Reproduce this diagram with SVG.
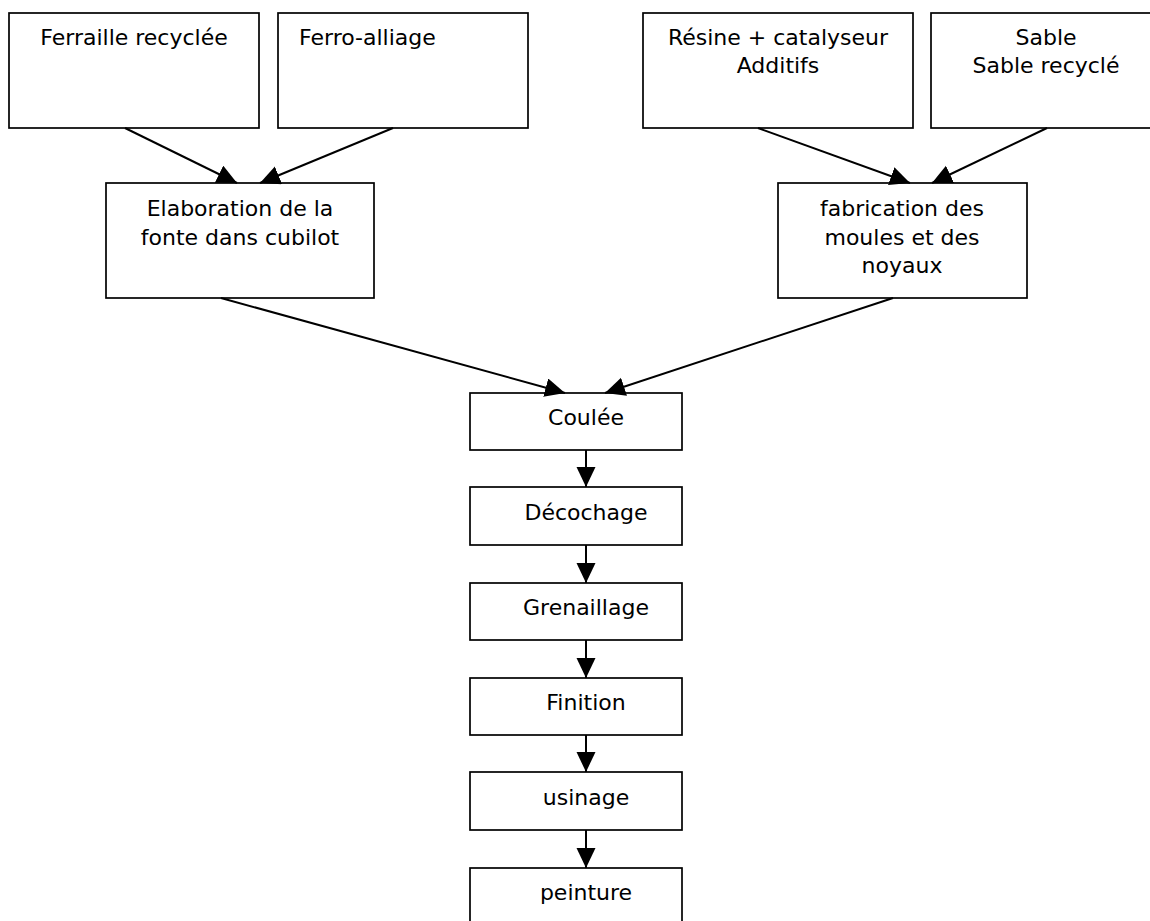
<svg xmlns="http://www.w3.org/2000/svg" width="1150" height="921" viewBox="0 0 1150 921">
<style>
.box{fill:#fff;stroke:#000;stroke-width:1.7}
.t{font-family:"DejaVu Sans","Liberation Sans",sans-serif;font-size:22px;fill:#000;text-anchor:middle}
.s{text-anchor:start}
.c{stroke:#000;stroke-width:2;fill:none;marker-end:url(#ah)}
</style>
<defs>
<marker id="ah" markerUnits="userSpaceOnUse" markerWidth="20" markerHeight="20" viewBox="0 0 20 20" refX="20" refY="9.5" orient="auto">
<path d="M0,0 L20,9.5 L0,19 z" fill="#000"/>
</marker>
</defs>
<rect width="1150" height="921" fill="#fff"/>
<g id="n-ferraille"><rect class="box" x="9" y="13" width="250" height="115"/><text class="t" x="134" y="45">Ferraille recyclée</text></g>
<g id="n-ferro"><rect class="box" x="278" y="13" width="250" height="115"/><text class="t s" x="299" y="45">Ferro-alliage</text></g>
<g id="n-resine"><rect class="box" x="643" y="13" width="270" height="115"/><text class="t" x="778" y="45">Résine + catalyseur</text><text class="t" x="778" y="73">Additifs</text></g>
<g id="n-sable"><rect class="box" x="931" y="13" width="240" height="115"/><text class="t" x="1046" y="45">Sable</text><text class="t" x="1046" y="73">Sable recyclé</text></g>
<g id="n-elaboration"><rect class="box" x="106" y="183" width="268" height="115"/><text class="t" x="240" y="216">Elaboration de la</text><text class="t" x="240" y="245">fonte dans cubilot</text></g>
<g id="n-fabrication"><rect class="box" x="778" y="183" width="249" height="115"/><text class="t" x="902" y="216">fabrication des</text><text class="t" x="902" y="245">moules et des</text><text class="t" x="902" y="273">noyaux</text></g>
<g id="n-coulee"><rect class="box" x="470" y="393" width="212" height="57"/><text class="t" x="586" y="425">Coulée</text></g>
<g id="n-decochage"><rect class="box" x="470" y="487" width="212" height="58"/><text class="t" x="586" y="520">Décochage</text></g>
<g id="n-grenaillage"><rect class="box" x="470" y="583" width="212" height="57"/><text class="t" x="586" y="615">Grenaillage</text></g>
<g id="n-finition"><rect class="box" x="470" y="678" width="212" height="57"/><text class="t" x="586" y="710">Finition</text></g>
<g id="n-usinage"><rect class="box" x="470" y="772" width="212" height="58"/><text class="t" x="586" y="805">usinage</text></g>
<g id="n-peinture"><rect class="box" x="470" y="868" width="212" height="60"/><text class="t" x="586" y="900">peinture</text></g>
<g id="connectors">
<line class="c" x1="125" y1="128" x2="237" y2="183"/>
<line class="c" x1="393" y1="128" x2="260" y2="183"/>
<line class="c" x1="758" y1="128" x2="910" y2="183"/>
<line class="c" x1="1047" y1="128" x2="932" y2="183"/>
<line class="c" x1="221" y1="298" x2="565" y2="393"/>
<line class="c" x1="893" y1="298" x2="605" y2="393"/>
<line class="c" x1="586" y1="450" x2="586" y2="487"/>
<line class="c" x1="586" y1="545" x2="586" y2="583"/>
<line class="c" x1="586" y1="640" x2="586" y2="678"/>
<line class="c" x1="586" y1="735" x2="586" y2="772"/>
<line class="c" x1="586" y1="830" x2="586" y2="868"/>
</g>
</svg>
